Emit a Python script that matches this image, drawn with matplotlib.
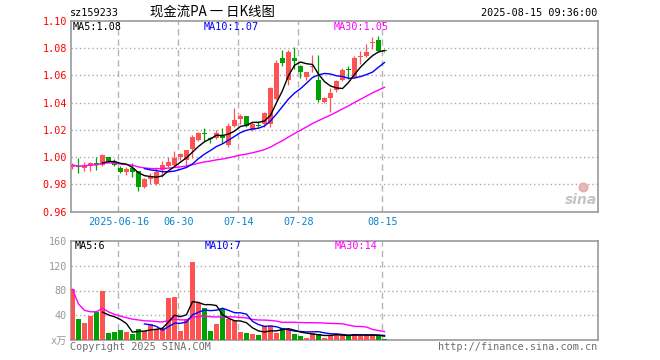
import numpy as np
import pandas as pd
import matplotlib
matplotlib.use('Agg')
import matplotlib.pyplot as plt

plt.rcParams['font.family'] = ['DejaVu Sans Mono', 'Noto Sans CJK SC']

symbol = 'sz159233'
title = '现金流PA 一 日K线图'
stamp = '2025-08-15 09:36:00'

# trading days shown on the axis (index into the candle list)
tick_labels = ['2025-06-16', '06-30', '07-14', '07-28', '08-15']
tick_idx = [8, 18, 28, 38, 52]

opens = [0.9931, 0.9931, 0.9921, 0.9936, 0.9960, 0.9943, 1.0000, 0.9965, 0.9919, 0.9894,
         0.9919, 0.9899, 0.9784, 0.9838, 0.9807, 0.9907, 0.9936, 0.9943, 1.0000, 0.9980,
         1.0057, 1.0127, 1.0172, 1.0137, 1.0140, 1.0157, 1.0090, 1.0230, 1.0278, 1.0304,
         1.0201, 1.0235, 1.0241, 1.0245, 1.0430, 1.0729, 1.0568, 1.0728, 1.0666, 1.0587,
         1.0660, 1.0568, 1.0409, 1.0436, 1.0495, 1.0568, 1.0648, 1.0590, 1.0733, 1.0740,
         1.0838, 1.0863, 1.0780]
highs = [0.9955, 0.9993, 0.9963, 0.9968, 1.0005, 1.0024, 1.0002, 0.9990, 0.9936, 0.9926,
         0.9956, 0.9899, 0.9848, 0.9882, 0.9931, 0.9975, 1.0004, 1.0049, 1.0034, 1.0054,
         1.0164, 1.0188, 1.0213, 1.0151, 1.0201, 1.0213, 1.0250, 1.0360, 1.0318, 1.0304,
         1.0260, 1.0269, 1.0335, 1.0519, 1.0715, 1.0789, 1.0784, 1.0809, 1.0679, 1.0627,
         1.0752, 1.0752, 1.0443, 1.0507, 1.0568, 1.0657, 1.0668, 1.0740, 1.0778, 1.0833,
         1.0879, 1.0890, 1.0780]
lows = [0.9915, 0.9887, 0.9902, 0.9902, 0.9905, 0.9936, 0.9973, 0.9935, 0.9882, 0.9870,
        0.9857, 0.9754, 0.9772, 0.9801, 0.9796, 0.9857, 0.9931, 0.9931, 0.9980, 0.9931,
        0.9995, 1.0122, 1.0122, 1.0105, 1.0135, 1.0103, 1.0078, 1.0221, 1.0245, 1.0221,
        1.0190, 1.0219, 1.0221, 1.0225, 1.0420, 1.0666, 1.0532, 1.0647, 1.0581, 1.0568,
        1.0627, 1.0409, 1.0399, 1.0335, 1.0482, 1.0561, 1.0572, 1.0581, 1.0681, 1.0734,
        1.0796, 1.0776, 1.0776]
closes = [0.9943, 0.9926, 0.9941, 0.9960, 0.9946, 1.0017, 0.9975, 0.9945, 0.9894, 0.9914,
          0.9894, 0.9784, 0.9838, 0.9860, 0.9892, 0.9943, 0.9968, 0.9993, 1.0023, 1.0054,
          1.0149, 1.0176, 1.0167, 1.0132, 1.0181, 1.0140, 1.0230, 1.0274, 1.0304, 1.0226,
          1.0245, 1.0230, 1.0328, 1.0507, 1.0690, 1.0692, 1.0776, 1.0708, 1.0629, 1.0627,
          1.0665, 1.0421, 1.0434, 1.0468, 1.0556, 1.0642, 1.0643, 1.0728, 1.0736, 1.0776,
          1.0843, 1.0782, 1.0779]
# volume in 万 shares
volumes = [82.0, 34.6, 27.7, 38.9, 45.8, 79.4, 11.7, 13.3, 16.5, 13.3,
           10.6, 18.1, 15.4, 26.1, 18.1, 19.7, 67.7, 69.3, 14.9, 33.6,
           125.3, 60.7, 52.0, 14.9, 26.1, 50.9, 33.5, 31.5, 13.3, 11.9,
           10.1, 8.5, 22.9, 22.4, 12.0, 19.7, 16.3, 10.6, 7.2, 4.3,
           12.2, 10.6, 4.3, 8.0, 9.6, 9.6, 6.9, 10.6, 6.9, 8.0,
           9.6, 6.9, 1.6]

price_ticks = [0.96, 0.98, 1.00, 1.02, 1.04, 1.06, 1.08, 1.10]
vol_ticks = [0, 40, 80, 120, 160]
vol_tick_labels = ['x万', '40', '80', '120', '160']

RED = '#ff5353'
GREEN = '#00a000'
FRAME = '#999999'
GRID = '#aaaaaa'
DATE_C = '#0a84cc'
W, H = 660, 360


def box(l, t, r, b):
    # pixel box -> figure fraction
    return [l / W, 1 - b / H, (r - l) / W, (b - t) / H]


def ma(values, n, start):
    s = pd.Series(values).rolling(n, min_periods=1).mean()
    s[:start] = np.nan
    return s.values


o = np.array(opens)
c = np.array(closes)
x = np.arange(len(closes))
colors = np.where(c >= o, RED, GREEN)

fig = plt.figure(figsize=(6.6, 3.6), dpi=100)
fig.patch.set_facecolor('white')
ax = fig.add_axes(box(70.5, 21, 597.5, 211.7))
axv = fig.add_axes(box(70.5, 240.7, 597.5, 340.3))

xlim = (-0.33, 87.5)
for a in (ax, axv):
    a.set_xlim(*xlim)
    for sp in a.spines.values():
        sp.set_color(FRAME)
        sp.set_linewidth(1.2)
    for t in tick_idx:
        a.axvline(t - 0.35, color='#b4b4b4', lw=1, ls=(0, (4.5, 3)), zorder=1)
    a.tick_params(length=0)

fs = 7.3

# price panel
ax.set_ylim(0.96, 1.10)
for y in price_ticks[1:-1]:
    ax.axhline(y, color=GRID, lw=1, ls=(0, (1, 2)), zorder=1)
ax.vlines(x, lows, highs, colors=colors, lw=0.9, zorder=3)
body_h = np.maximum(np.abs(c - o), 0.0008)
ax.bar(x, body_h, 0.82, bottom=np.minimum(o, c), color=colors, zorder=3,
       antialiased=False)

ma5 = ma(closes, 5, 5)
ma10 = ma(closes, 10, 12)
ma30 = ma(closes, 30, 0)
ax.plot(x, ma30, color='#ff00ff', lw=1, zorder=4)
ax.plot(x, ma10, color='#0000ff', lw=1, zorder=4)
ax.plot(x, ma5, color='black', lw=1, zorder=4)

ax.set_yticks(price_ticks)
ax.set_yticklabels(['%.2f' % v for v in price_ticks], color='#ff0000', fontsize=fs)
ax.tick_params(axis='y', pad=2.5)
ax.set_xticks([t - 0.35 for t in tick_idx])
ax.set_xticklabels(tick_labels, color=DATE_C, fontsize=fs)
ax.tick_params(axis='x', pad=3.5)

# sina watermark
ax.scatter([0.973], [0.128], s=38, color='#f4a8a8', transform=ax.transAxes, zorder=2)
ax.scatter([0.973], [0.128], s=8, color='#c9c9c9', transform=ax.transAxes, zorder=2)
ax.text(0.968, 0.06, 'sina', transform=ax.transAxes, ha='center', va='center',
        fontsize=10, color='#c4c4c4', style='italic', weight='bold',
        family='DejaVu Sans', zorder=2)

# volume panel
axv.set_ylim(0, 160)
for y in vol_ticks[1:-1]:
    axv.axhline(y, color=GRID, lw=1, ls=(0, (1, 2)), zorder=1)
axv.bar(x, volumes, 0.82, color=colors, zorder=3, antialiased=False)
vma5 = ma(volumes, 5, 5)
vma10 = ma(volumes, 10, 12)
vma30 = ma(volumes, 30, 0)
axv.plot(x, vma30, color='#ff00ff', lw=1, zorder=4)
axv.plot(x, vma10, color='#0000ff', lw=1, zorder=4)
axv.plot(x, vma5, color='black', lw=1, zorder=4)
axv.set_yticks(vol_ticks)
axv.set_yticklabels(vol_tick_labels, color='#999999', fontsize=fs)
axv.tick_params(axis='y', pad=2.5)
axv.set_xticks([])

# header and legends
fig.text(70 / W, 1 - 13 / H, symbol, fontsize=fs, va='center', color='black')
fig.text(150 / W, 1 - 13 / H, title, fontsize=9.6, va='center', color='black',
         family=['Noto Sans CJK SC', 'DejaVu Sans'])
fig.text(597 / W, 1 - 13 / H, stamp, fontsize=fs, va='center', ha='right', color='black')

fig.text(73 / W, 1 - 26.5 / H, 'MA5:%.2f' % ma5[-1], fontsize=fs, va='center', color='black')
fig.text(204 / W, 1 - 26.5 / H, 'MA10:%.2f' % ma10[-1], fontsize=fs, va='center', color='#0000ff')
fig.text(334 / W, 1 - 26.5 / H, 'MA30:%.2f' % ma30[-1], fontsize=fs, va='center', color='#ff00ff')

fig.text(75 / W, 1 - 246 / H, 'MA5:%d' % int(vma5[-1]), fontsize=fs, va='center', color='black')
fig.text(204.5 / W, 1 - 246 / H, 'MA10:%d' % int(vma10[-1]), fontsize=fs, va='center', color='#0000ff')
fig.text(335 / W, 1 - 246 / H, 'MA30:%d' % int(vma30[-1]), fontsize=fs, va='center', color='#ff00ff')

fig.text(70 / W, 1 - 347 / H, 'Copyright 2025 SINA.COM', fontsize=fs, va='center', color='#6e6e6e')
fig.text(597 / W, 1 - 347 / H, 'http://finance.sina.com.cn', fontsize=fs, va='center',
         ha='right', color='#6e6e6e')

fig.savefig('out.png', dpi=100, facecolor='white')
